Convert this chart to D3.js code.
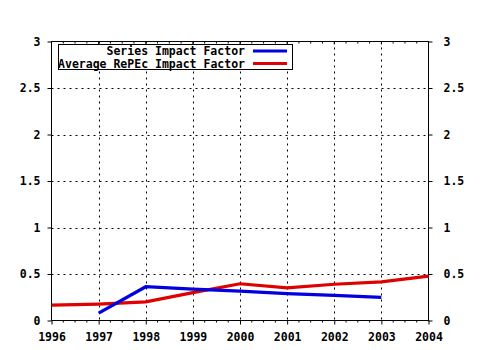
<!DOCTYPE html>
<html><head><meta charset="utf-8">
<script src="https://cdn.jsdelivr.net/npm/d3@7"></script>
<style>body{margin:0;background:#fff}svg{display:block}text{font-family:"DejaVu Sans Mono",monospace;font-weight:bold;font-size:11.5px;fill:#000}</style>
</head><body><svg id="c" width="480" height="350"></svg>
<script>
const years = [1996,1997,1998,1999,2000,2001,2002,2003,2004];
const yTicks = [0,0.5,1,1.5,2,2.5,3];
const yTickLabels = ["0","0.5","1","1.5","2","2.5","3"];
const seriesYears = [1997,1998,1999,2000,2001,2002,2003];
const seriesValues = [0.08,0.363,0.338,0.316,0.29,0.27,0.249];
const avgYears = [1996,1997,1998,1999,2000,2001,2002,2003,2004];
const avgValues = [0.165,0.177,0.20,0.30,0.395,0.35,0.39,0.415,0.477];
const legendLabels = ["Series Impact Factor","Average RePEc Impact Factor"];
const colors = ["#0000e0","#e00000"];

const svg = d3.select("#c");
const L=51.5,R=428.5,T=41.5,B=320.5;
const x = d3.scaleLinear().domain([1996,2004]).range([L,R]);
const y = d3.scaleLinear().domain([0,3]).range([B,T]);

// grid
const g = svg.append("g");
g.selectAll(".vg").data(years.slice(1,-1)).enter().append("line")
 .attr("x1",d=>Math.round(x(d))+0.5).attr("x2",d=>Math.round(x(d))+0.5).attr("y1",T).attr("y2",B)
 .attr("stroke","#000").attr("stroke-dasharray","2,4");
g.selectAll(".hg").data(yTicks.slice(1,-1)).enter().append("line")
 .attr("y1",d=>Math.round(y(d))+0.5).attr("y2",d=>Math.round(y(d))+0.5).attr("x1",L).attr("x2",R)
 .attr("stroke","#000").attr("stroke-dasharray","2,4");

// minor x ticks
const minors=[];
for(let i=0;i<years.length-1;i++) for(let k=1;k<4;k++) minors.push(years[i]+k/4);

// axes
const fmt=(d,i)=>yTickLabels[i];
svg.append("g").attr("transform",`translate(0,${B})`)
 .call(d3.axisBottom(x).tickValues(years).tickFormat(d3.format("d")).tickSize(4).tickPadding(8))
 .call(a=>{a.select(".domain").remove();});
svg.append("g").attr("transform",`translate(0,${B})`).selectAll("line").data(minors).enter().append("line")
 .attr("x1",d=>x(d)).attr("x2",d=>x(d)).attr("y1",0).attr("y2",2).attr("stroke","#000");
svg.append("g").attr("transform",`translate(0,${T})`).selectAll("line").data(years).enter().append("line")
 .attr("x1",d=>x(d)).attr("x2",d=>x(d)).attr("y1",0).attr("y2",3).attr("stroke","#000");
svg.append("g").attr("transform",`translate(0,${T})`).selectAll("line").data(minors).enter().append("line")
 .attr("x1",d=>x(d)).attr("x2",d=>x(d)).attr("y1",0).attr("y2",2).attr("stroke","#000");
svg.append("g").attr("transform",`translate(${L},0)`)
 .call(d3.axisLeft(y).tickValues(yTicks).tickFormat(fmt).tickSize(4).tickPadding(7))
 .call(a=>a.select(".domain").remove());
svg.append("g").attr("transform",`translate(${R},0)`)
 .call(d3.axisRight(y).tickValues(yTicks).tickFormat(fmt).tickSize(4).tickPadding(11))
 .call(a=>a.select(".domain").remove());
svg.selectAll(".tick text").style("font-family","DejaVu Sans Mono").style("font-weight","bold").style("font-size","11.5px").attr("fill","#000");
svg.selectAll(".tick line").attr("stroke","#000");

svg.append("rect").attr("x",L).attr("y",T).attr("width",R-L).attr("height",B-T)
 .attr("fill","none").attr("stroke","#000");

// lines
const line=d3.line().x(d=>x(d[0])).y(d=>y(d[1]));
svg.append("path").datum(avgYears.map((d,i)=>[d,avgValues[i]])).attr("d",line)
 .attr("fill","none").attr("stroke",colors[1]).attr("stroke-width",3.2);
svg.append("path").datum(seriesYears.map((d,i)=>[d,seriesValues[i]])).attr("d",line)
 .attr("fill","none").attr("stroke",colors[0]).attr("stroke-width",3.2);

// legend
const lg=svg.append("g");
lg.append("rect").attr("x",58.5).attr("y",44.5).attr("width",234).attr("height",25).attr("fill","#fff").attr("stroke","#000");
legendLabels.forEach((t,i)=>{
  lg.append("text").attr("x",245).attr("y",55+i*12.5).attr("text-anchor","end").text(t);
  lg.append("line").attr("x1",253).attr("x2",287).attr("y1",51+i*12.5).attr("y2",51+i*12.5)
   .attr("stroke",colors[i]).attr("stroke-width",3.2);
});
</script></body></html>
